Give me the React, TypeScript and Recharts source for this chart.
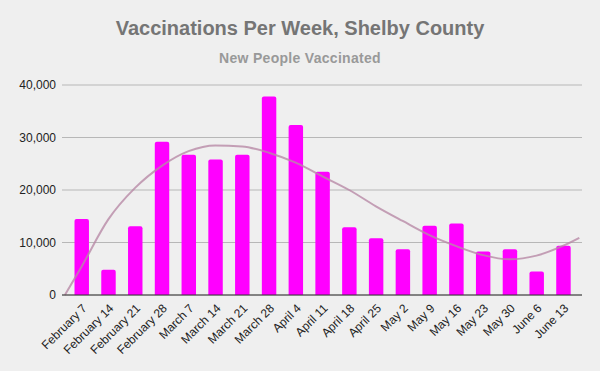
import React from "react";
import {
  ComposedChart,
  Bar,
  Line,
  XAxis,
  YAxis,
  CartesianGrid,
} from "recharts";

const weeks = [
  "February 7", "February 14", "February 21", "February 28",
  "March 7", "March 14", "March 21", "March 28",
  "April 4", "April 11", "April 18", "April 25",
  "May 2", "May 9", "May 16", "May 23", "May 30",
  "June 6", "June 13",
];

const newVaccinated = [
  14500, 4800, 13100, 29200, 26700, 25800, 26700, 37800, 32400,
  23500, 12900, 10800, 8700, 13200, 13600, 8300, 8700, 4500, 9400,
];

// trendline, at each week
const trend = [
  5400, 14400, 20400, 24600, 27400, 28500, 28300, 27100, 25200,
  22600, 20000, 16900, 14100, 11400, 9300, 7600, 6800, 7500, 9400,
];
const trendStart = { x: -0.62, value: 0 };
const trendEnd = { x: 18.6, value: 10900 };

const yTicks = [0, 10000, 20000, 30000, 40000];

const xMin = -0.73;
const xMax = 18.7;

const data = [
  { x: trendStart.x, trend: trendStart.value },
  ...weeks.map((w, i) => ({ x: i, week: w, value: newVaccinated[i], trend: trend[i] })),
  { x: trendEnd.x, trend: trendEnd.value },
];

const font = "'Liberation Sans', Arial, sans-serif";

export default function App() {
  return (
    <div
      style={{
        position: "fixed",
        left: 0,
        top: 0,
        width: 600,
        height: 371,
        background: "#efefef",
        fontFamily: font,
      }}
    >
      <div
        style={{
          position: "absolute",
          top: 17,
          width: 600,
          textAlign: "center",
          fontSize: 20,
          fontWeight: "bold",
          color: "#757575",
        }}
      >
        Vaccinations Per Week, Shelby County
      </div>
      <div
        style={{
          position: "absolute",
          top: 50,
          width: 600,
          textAlign: "center",
          fontSize: 14,
          fontWeight: "bold",
          color: "#999999",
          letterSpacing: 0.3,
        }}
      >
        New People Vaccinated
      </div>
      <ComposedChart
        width={600}
        height={371}
        data={data}
        margin={{ top: 85, right: 18, bottom: 0, left: 0 }}
        style={{ position: "absolute", left: 0, top: 0 }}
      >
        <CartesianGrid vertical={false} stroke="#b7b7b7" />
        <XAxis
          dataKey="x"
          type="number"
          domain={[xMin, xMax]}
          ticks={weeks.map((_, i) => i)}
          interval={0}
          tickFormatter={(v: number) => weeks[v] ?? ""}
          tick={{ fontSize: 12, fill: "#222", fontFamily: font, angle: -45, textAnchor: "end" }}
          tickLine={false}
          tickSize={0}
          tickMargin={8}
          axisLine={{ stroke: "#333", strokeWidth: 1 }}
          height={76}
          allowDataOverflow
        />
        <YAxis
          domain={[0, 40000]}
          ticks={yTicks}
          tickFormatter={(v: number) => v.toLocaleString("en-US")}
          tick={{ fontSize: 12, fill: "#222", fontFamily: font }}
          axisLine={false}
          tickLine={false}
          tickSize={0}
          tickMargin={6}
          width={62}
        />
        <Bar
          dataKey="value"
          fill="#ff00ff"
          barSize={17}
          radius={[2, 2, 0, 0]}
          isAnimationActive={false}
        />
        <Line
          dataKey="trend"
          type="monotone"
          stroke="#b88aa6"
          strokeOpacity={0.8}
          strokeWidth={2}
          dot={false}
          activeDot={false}
          isAnimationActive={false}
        />
      </ComposedChart>
    </div>
  );
}
